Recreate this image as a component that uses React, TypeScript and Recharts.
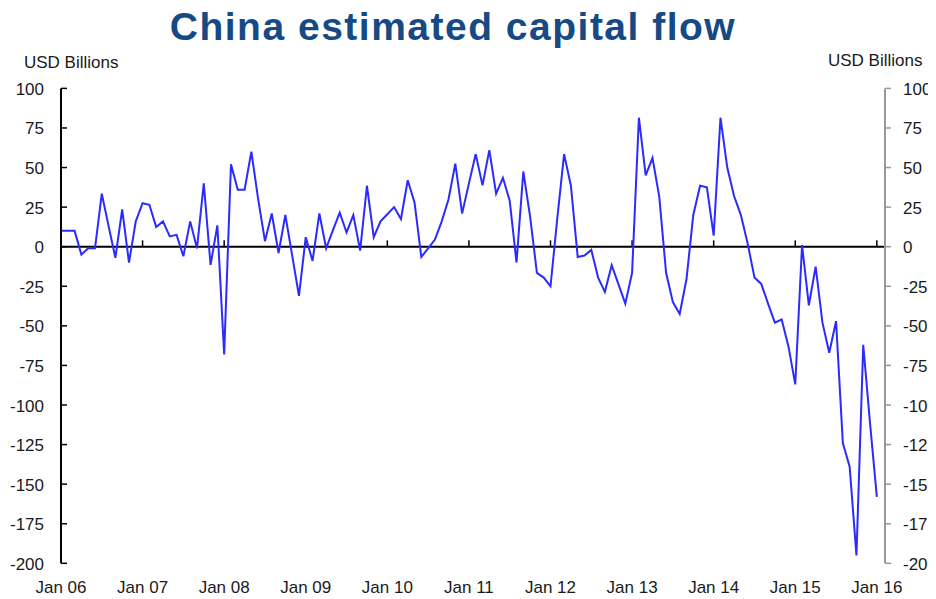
import React from "react";
import { LineChart, Line, XAxis, YAxis, ReferenceLine } from "recharts";

const monthIndex: number[] = Array.from({ length: 121 }, (_, i) => i);

const flowValues: number[] = [
  10, 10, 10, -5, -1, -1, 33.5, 13, -7, 23.5, -10, 16,
  27.5, 26.5, 12.5, 16, 6.5, 7.5, -6, 16, -1, 40, -11.5, 13.5,
  -68, 52, 36, 36, 60, 30, 3.5, 21, -4, 20, -5.5, -31,
  6, -9, 21, -1, 10.5, 21.5, 9, 20, -2.5, 38.5, 6, 16,
  20.5, 25, 17.5, 42, 28, -6.5, -1, 4.5, 16, 30, 52.5, 21,
  40, 58.5, 38.75, 61, 33.5, 43.5, 29, -10, 47.5, 19, -16.5, -19.5,
  -25, 18, 58.5, 38.5, -6.5, -5.6, -2, -19.5, -28.5, -11.7, -23.8, -36,
  -16.5, 81.5, 45, 56, 31.5, -16.5, -35, -42.5, -20.6, 20, 38.5, 37.5,
  7, 81.5, 50, 32, 20, 2, -19.5, -23.5, -36, -48, -46, -63,
  -87, 1, -37, -12.6, -48, -67, -47, -124, -139, -195, -62, -111.6,
  -158,
];

const yearTicks: number[] = [0, 12, 24, 36, 48, 60, 72, 84, 96, 108, 120];
const yearLabels: string[] = [
  "Jan 06", "Jan 07", "Jan 08", "Jan 09", "Jan 10", "Jan 11",
  "Jan 12", "Jan 13", "Jan 14", "Jan 15", "Jan 16",
];
const valueTicks: number[] = [100, 75, 50, 25, 0, -25, -50, -75, -100, -125, -150, -175, -200];

const chartData = monthIndex.map((i) => ({ i, v: flowValues[i] }));

const FONT = "'Liberation Sans', Arial, sans-serif";
const TXT = "#1a1a1a";

const LeftTick = (props: any) => {
  const { x, y, payload } = props;
  return (
    <g>
      <line x1={x} x2={x + 6} y1={y} y2={y} stroke="#000" strokeWidth={1.5} />
      <text x={x - 17} y={y + 1} textAnchor="end" dominantBaseline="central" fontFamily={FONT} fontSize={17} fill={TXT}>
        {payload.value}
      </text>
    </g>
  );
};

const RightTick = (props: any) => {
  const { x, y, payload } = props;
  return (
    <g>
      <line x1={x} x2={x + 6} y1={y} y2={y} stroke="#999" strokeWidth={1.5} />
      <text x={x + 18} y={y + 1} textAnchor="start" dominantBaseline="central" fontFamily={FONT} fontSize={17} fill={TXT}>
        {payload.value}
      </text>
    </g>
  );
};

const BottomTick = (props: any) => {
  const { x, y, payload } = props;
  const idx = yearTicks.indexOf(payload.value);
  return (
    <text x={x} y={y + 30} textAnchor="middle" fontFamily={FONT} fontSize={17} fill={TXT}>
      {yearLabels[idx]}
    </text>
  );
};

export default function App() {
  return (
    <div style={{ margin: "-8px 0 0 -8px", width: 936, height: 599, position: "relative", background: "#fff", overflow: "hidden" }}>
      <svg width={936} height={599} style={{ position: "absolute", left: 0, top: 0 }}>
        <text x={453} y={40} textAnchor="middle" fontFamily={FONT} fontWeight="bold" fontSize={39} letterSpacing={1.5} fill="#174A84">
          China estimated capital flow
        </text>
        <text x={24} y={68} fontFamily={FONT} fontSize={17} fill={TXT}>USD Billions</text>
        <text x={828} y={66} fontFamily={FONT} fontSize={17} fill={TXT}>USD Billions</text>
      </svg>
      <div style={{ position: "absolute", left: 0, top: 0 }}>
        <LineChart width={936} height={599} data={chartData} margin={{ top: 88.4, right: 0, bottom: 0, left: 0 }}>
          <XAxis
            dataKey="i"
            type="number"
            domain={[0, 121.2]}
            ticks={yearTicks}
            interval={0}
            height={35.7}
            axisLine={false}
            tickLine={false}
            tickSize={0}
            tickMargin={0}
            tick={<BottomTick />}
          />
          <YAxis
            yAxisId="left"
            orientation="left"
            type="number"
            domain={[-200, 100]}
            ticks={valueTicks}
            interval={0}
            width={61}
            axisLine={{ stroke: "#000", strokeWidth: 2 }}
            tickLine={false}
            tickSize={0}
            tickMargin={0}
            tick={<LeftTick />}
          />
          <YAxis
            yAxisId="right"
            orientation="right"
            type="number"
            domain={[-200, 100]}
            ticks={valueTicks}
            interval={0}
            width={51}
            axisLine={{ stroke: "#999", strokeWidth: 2 }}
            tickLine={false}
            tickSize={0}
            tickMargin={0}
            tick={<RightTick />}
          />
          <ReferenceLine yAxisId="left" y={0} stroke="#000" strokeWidth={2} />
          {yearTicks.slice(1).map((t) => (
            <ReferenceLine
              key={t}
              yAxisId="left"
              segment={[{ x: t, y: 0 }, { x: t, y: 4 }]}
              stroke="#000"
              strokeWidth={1.5}
            />
          ))}
          <Line
            yAxisId="right"
            type="linear"
            dataKey="v"
            stroke="none"
            strokeWidth={0}
            dot={false}
            activeDot={false}
            isAnimationActive={false}
          />
          <Line
            yAxisId="left"
            type="linear"
            dataKey="v"
            stroke="#2b2bff"
            strokeWidth={2}
            dot={false}
            isAnimationActive={false}
          />
        </LineChart>
      </div>
    </div>
  );
}
